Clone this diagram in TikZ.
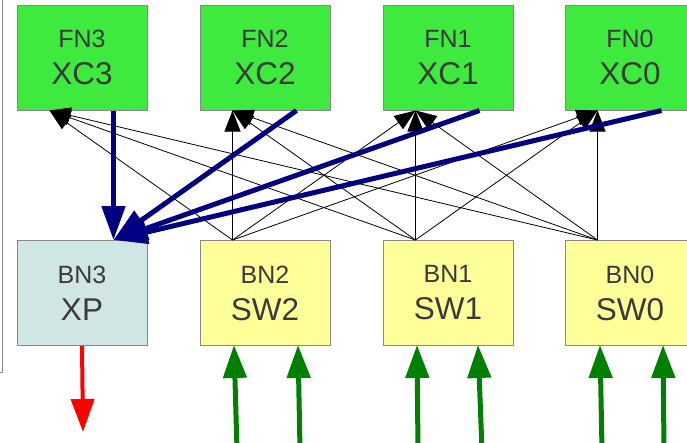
\documentclass[tikz,border=0pt]{standalone}
\usepackage{fontspec}
\setmainfont{Liberation Sans}
\usetikzlibrary{arrows.meta}
\definecolor{fngreen}{RGB}{62,234,62}
\definecolor{bnyellow}{RGB}{255,255,153}
\definecolor{bncyan}{RGB}{207,230,228}
\definecolor{boxgray}{RGB}{136,136,136}
\definecolor{txtgray}{RGB}{58,58,58}
\definecolor{navyblue}{RGB}{0,0,128}
\definecolor{dgreen}{RGB}{0,128,0}
\newcommand{\smalltag}[1]{{\fontsize{25}{37}\selectfont #1}}
\begin{document}
\begin{tikzpicture}[x=1pt,y=-1pt,
  box/.style={draw=boxgray, line width=1pt, minimum width=130pt, minimum height=105pt,
    inner sep=0pt, align=center, text=txtgray, font=\fontsize{31.5}{37}\selectfont},
  fnbox/.style={box, fill=fngreen},
  bnbox/.style={box, fill=bnyellow},
  xpbox/.style={box, fill=bncyan},
  thinarr/.style={draw=black, line width=0.8pt, -{Triangle[length=21pt,width=16pt]}},
  bluearr/.style={draw=navyblue, line width=5pt, -{Triangle[length=34pt,width=23pt,fill=navyblue]}},
  redarr/.style={draw=red, line width=4pt, -{Triangle[length=33pt,width=23pt,fill=red]}},
  greenarr/.style={draw=dgreen, line width=5pt, -{Triangle[length=33pt,width=23pt,fill=dgreen]}},
  frameline/.style={draw=boxgray, line width=1pt}
]
\clip (0,0) rectangle (687,442);
\useasboundingbox (0,0) rectangle (687,442);

% frame edge on the left
\draw[frameline] (2,0) -- (2,372) -- (0,372);

% front nodes
\node[fnbox] (fn3) at (82,57.5)  {\smalltag{FN3}\\XC3};
\node[fnbox] (fn2) at (265,57.5) {\smalltag{FN2}\\XC2};
\node[fnbox] (fn1) at (448,57.5) {\smalltag{FN1}\\XC1};
\node[fnbox] (fn0) at (630,57.5) {\smalltag{FN0}\\XC0};

% back nodes
\node[xpbox] (bn3) at (82,293)  {\smalltag{BN3}\\XP};
\node[bnbox] (bn2) at (265,293) {\smalltag{BN2}\\SW2};
\node[bnbox] (bn1) at (448,293) {\smalltag{BN1}\\SW1};
\node[bnbox] (bn0) at (630,293) {\smalltag{BN0}\\SW0};

% connection points
\foreach \n in {fn3,fn2,fn1,fn0} {
  \coordinate (\n a) at ([xshift=33pt]\n.south west);
  \coordinate (\n b) at ([xshift=97pt]\n.south west);
}
\foreach \n in {bn3,bn2,bn1,bn0} {
  \coordinate (\n a) at ([xshift=33pt]\n.north west);
  \coordinate (\n b) at ([xshift=97pt]\n.north west);
}

% thin black arrows: every switch to every front node
\foreach \s in {bn2,bn1,bn0} {
  \foreach \t in {fn3,fn2,fn1,fn0} {
    \draw[thinarr] (\s a) -- (\t a);
  }
}

% thick blue arrows into XP
\foreach \t in {fn3,fn2,fn1,fn0} {
  \draw[bluearr] (\t b) -- (bn3b);
}

% red output arrow
\coordinate (redend) at (83,432);
\draw[redarr] (bn3.south) -- (redend);

% green input arrows
\coordinate (g1) at (237,450); \coordinate (g1t) at (234,345);
\coordinate (g2) at (300,450); \coordinate (g2t) at (298,345);
\coordinate (g3) at (418,450); \coordinate (g3t) at (417,345);
\coordinate (g4) at (482,450); \coordinate (g4t) at (478,345);
\coordinate (g5) at (602,450); \coordinate (g5t) at (600,345);
\coordinate (g6) at (664,450); \coordinate (g6t) at (663,345);
\foreach \i in {1,...,6} {
  \draw[greenarr] (g\i) -- (g\i t);
}
\end{tikzpicture}
\end{document}
